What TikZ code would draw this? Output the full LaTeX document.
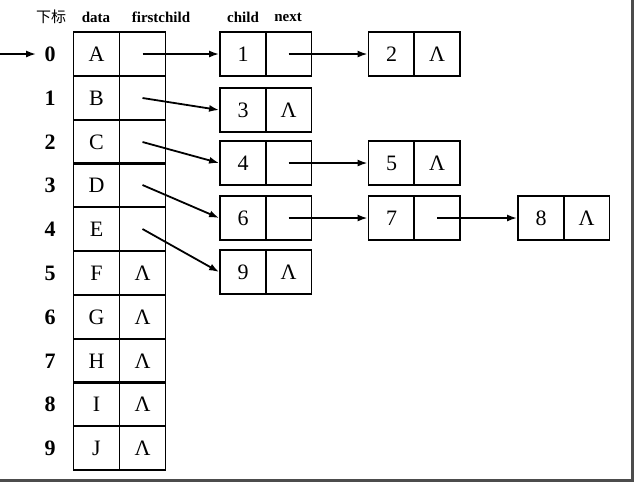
\documentclass[tikz,border=0pt]{standalone}
\usepackage{fontspec}
\setmainfont{Liberation Serif}
\newfontfamily\cjk{Noto Sans CJK SC}
\usepackage{tikz}
\usetikzlibrary{
  arrows.meta,
  positioning
}

\begin{document}
\begin{tikzpicture}[
  x=0.5pt, y=-0.5pt,
  cell/.style={
    draw=black, line width=0.9pt,
    minimum width=23pt, minimum height=22pt,
    inner sep=0pt, font=\fontsize{11}{13}\selectfont
  },
  idx/.style={
    font=\fontsize{11}{13}\selectfont\bfseries, inner sep=1pt
  },
  head/.style={
    font=\fontsize{7.5}{9}\selectfont\bfseries, inner sep=1pt
  },
  link/.style={
    -{Latex[length=5pt, width=3.5pt]},
    line width=0.9pt, draw=black
  }
]
\useasboundingbox (0,0) rectangle (635,484);

% column heads
\node[head] (hidx)   at ( 51, 17) {\cjk\mdseries 下标};
\node[head] (hdata)  at ( 96, 17) {data};
\node[head] (hfirst) at (161, 17) {firstchild};
\node[head] (hchild) at (243, 17) {child};
\node[head] (hnext)  at (288, 17) {next};

% index column
\node[idx] (i0) at (50,  54) {0};
\node[idx] (i1) at (50,  98) {1};
\node[idx] (i2) at (50, 142) {2};
\node[idx] (i3) at (50, 185) {3};
\node[idx] (i4) at (50, 229) {4};
\node[idx] (i5) at (50, 273) {5};
\node[idx] (i6) at (50, 317) {6};
\node[idx] (i7) at (50, 361) {7};
\node[idx] (i8) at (50, 404) {8};
\node[idx] (i9) at (50, 448) {9};

% node table
\node[cell] (d0) at (96.5,  54) {A};  \node[cell] (f0) at (142.5,  54) {};
\node[cell] (d1) at (96.5,  98) {B};  \node[cell] (f1) at (142.5,  98) {};
\node[cell] (d2) at (96.5, 142) {C};  \node[cell] (f2) at (142.5, 142) {};
\node[cell] (d3) at (96.5, 185) {D};  \node[cell] (f3) at (142.5, 185) {};
\node[cell] (d4) at (96.5, 229) {E};  \node[cell] (f4) at (142.5, 229) {};
\node[cell] (d5) at (96.5, 273) {F};  \node[cell] (f5) at (142.5, 273) {Λ};
\node[cell] (d6) at (96.5, 317) {G};  \node[cell] (f6) at (142.5, 317) {Λ};
\node[cell] (d7) at (96.5, 361) {H};  \node[cell] (f7) at (142.5, 361) {Λ};
\node[cell] (d8) at (96.5, 404) {I};  \node[cell] (f8) at (142.5, 404) {Λ};
\node[cell] (d9) at (96.5, 448) {J};  \node[cell] (f9) at (142.5, 448) {Λ};

% child lists
\node[cell] (c1) at (243,  54) {1};   \node[cell] (n1) at (288.5,  54) {};
\node[cell] (c2) at (391.5, 54) {2};  \node[cell] (n2) at (437,  54) {Λ};
\node[cell] (c3) at (243, 110) {3};   \node[cell] (n3) at (288.5, 110) {Λ};
\node[cell] (c4) at (243, 163) {4};   \node[cell] (n4) at (288.5, 163) {};
\node[cell] (c5) at (391.5, 163) {5}; \node[cell] (n5) at (437, 163) {Λ};
\node[cell] (c6) at (243, 218) {6};   \node[cell] (n6) at (288.5, 218) {};
\node[cell] (c7) at (391.5, 218) {7}; \node[cell] (n7) at (437, 218) {};
\node[cell] (c8) at (541, 218) {8};   \node[cell] (n8) at (586.5, 218) {Λ};
\node[cell] (c9) at (243, 272) {9};   \node[cell] (n9) at (288.5, 272) {Λ};

% head pointer
\coordinate (entry) at (0, 54);
\draw[link, shorten >=3pt] (entry) -- (i0.west);

\draw[link] (f0.center) -- (c1.west);
\draw[link] (f1.center) -- (c3.west);
\draw[link] (f2.center) -- (c4.west);
\draw[link] (f3.center) -- (c6.west);
\draw[link] (f4.center) -- (c9.west);

\draw[link] (n1.center) -- (c2.west);
\draw[link] (n4.center) -- (c5.west);
\draw[link] (n6.center) -- (c7.west);
\draw[link] (n7.center) -- (c8.west);

% frame edge
\draw[black!70, line width=1.5pt] (0,480) -- (632,480) -- (632,0);
\end{tikzpicture}
\end{document}
